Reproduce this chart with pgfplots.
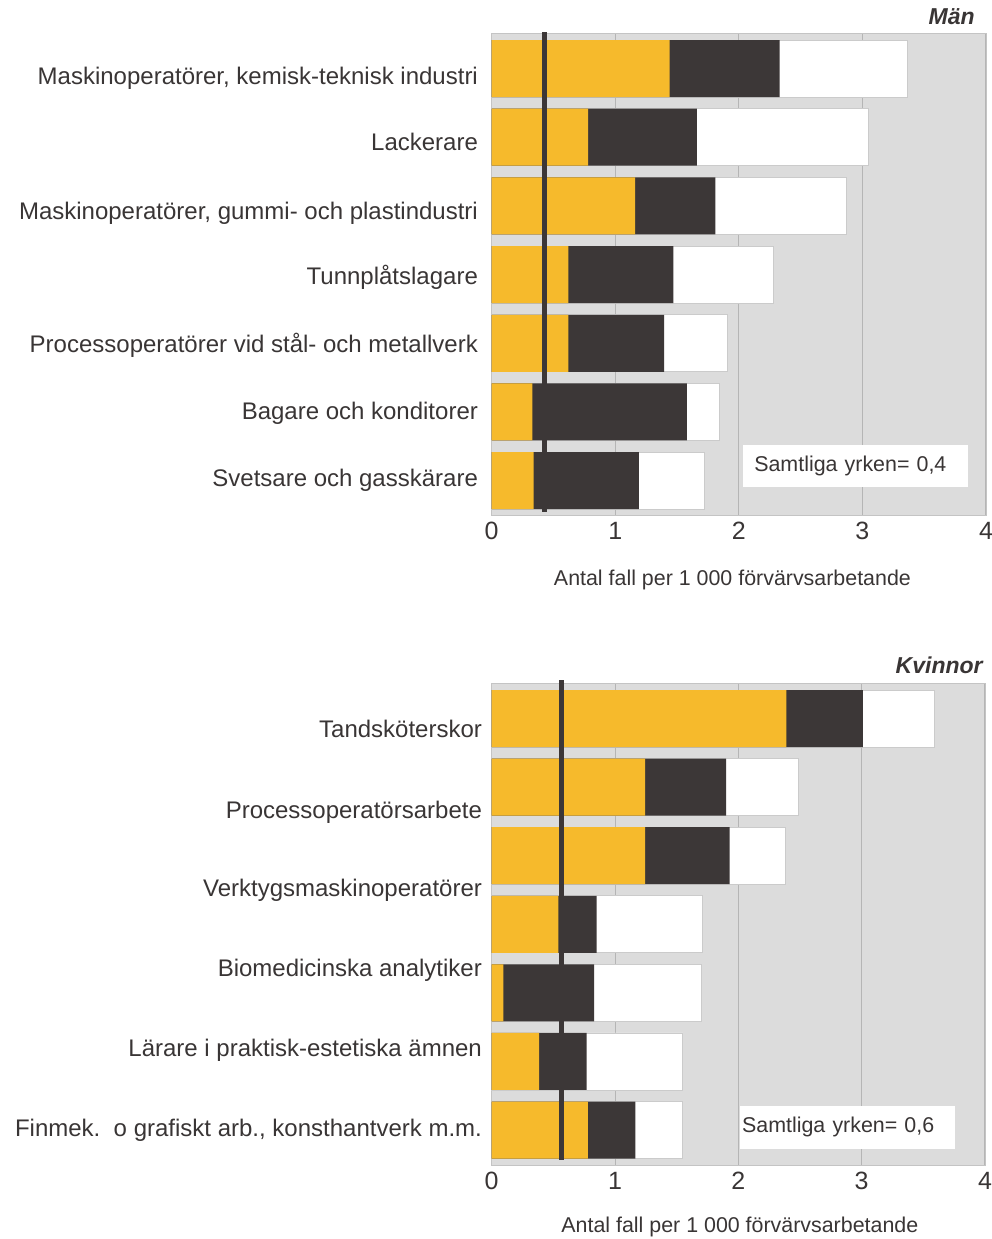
\documentclass[border=0pt]{standalone}
\usepackage{fontspec}
\setmainfont{Liberation Sans}
\usepackage{pgfplots}
\pgfplotsset{compat=1.18}
\definecolor{cy}{HTML}{F6BA2C}
\definecolor{cd}{HTML}{3C3737}
\definecolor{cbg}{HTML}{DCDCDC}
\definecolor{cgrid}{HTML}{B5B5B5}
\definecolor{ctxt}{HTML}{393535}
\pgfplotsset{panel/.style={
  anchor=north west, scale only axis,
  xmin=0, xmax=4, y dir=reverse, xtick={0,1,2,3,4},
  axis background/.style={fill=cbg},
  axis line style={draw=cgrid!80},
  major tick length=0pt,
  xmajorgrids, grid style={cgrid, line width=0.5pt},
  tick label style={text=ctxt},
  xticklabel style={font=\fontsize{12.5}{14}\selectfont},
  yticklabel style={font=\fontsize{12}{14}\selectfont, anchor=east, text height=8.6pt, text depth=0pt, inner sep=0pt},
  /pgf/number format/assume math mode=true,
  xlabel style={font=\fontsize{10.7}{12}\selectfont, text=ctxt, anchor=center, text height=7.7pt, text depth=0pt},
  clip=false,
  xbar, bar shift=0pt, bar width=0.83,
}}
\begin{document}
\begin{tikzpicture}
\useasboundingbox (0,0) rectangle (496pt,-619.5pt);
% ---------------- Men ----------------
\begin{axis}[panel, at={(245.85pt,-16.5pt)}, width=247.15pt, height=241pt,
  ymin=-0.517, ymax=6.50,
  ytick={0.105,1.075,2.07,3.017,4.012,4.988,5.959},
  yticklabels={{Maskinoperatörer, kemisk-teknisk industri}, {Lackerare}, {Maskinoperatörer, gummi- och plastindustri}, {Tunnplåtslagare}, {Processoperatörer vid stål- och metallverk}, {Bagare och konditorer}, {Svetsare och gasskärare}},
  yticklabel style={xshift=-6.7pt},
  xlabel={Antal fall per 1 000 förvärvsarbetande},
  xlabel style={at={(axis description cs:0.487,0)}, yshift=-31.5pt},
]
\addplot[fill=white, draw=cgrid!70] coordinates {(3.36,0) (3.05,1) (2.87,2) (2.28,3) (1.91,4) (1.84,5) (1.72,6)};
\addplot[fill=cd, draw=none] coordinates {(2.33,0) (1.66,1) (1.81,2) (1.47,3) (1.395,4) (1.58,5) (1.19,6)};
\addplot[fill=cy, draw=none] coordinates {(1.44,0) (0.78,1) (1.16,2) (0.62,3) (0.62,4) (0.33,5) (0.34,6)};
\addplot[sharp plot, no marks, line width=2.5pt, cd] coordinates {(0.43,-0.53) (0.43,6.46)};
\node[fill=white, anchor=west, minimum height=20.8pt, text width=101pt, inner xsep=5.8pt, align=left, text=ctxt, font=\fontsize{10.7}{12}\selectfont] at (axis cs:2.028,5.786) {Samtliga yrken= 0,4};
\end{axis}
\node[anchor=east, inner sep=0pt, text=ctxt, text depth=0pt, font=\bfseries\itshape\fontsize{11.5}{13}\selectfont] at (487.5pt,-8.5pt) {Män};
% ---------------- Women ----------------
\begin{axis}[panel, at={(245.85pt,-341.5pt)}, width=246.65pt, height=241pt,
  ymin=-0.518, ymax=6.51,
  ytick={0.156,1.331,2.474,3.641,4.797,5.974},
  yticklabels={{Tandsköterskor}, {Processoperatörsarbete}, {Verktygsmaskinoperatörer}, {Biomedicinska analytiker}, {Lärare i praktisk-estetiska ämnen}, {Finmek.\ \ o grafiskt arb., konsthantverk m.m.}},
  yticklabel style={xshift=-4.7pt},
  xlabel={Antal fall per 1 000 förvärvsarbetande},
  xlabel style={at={(axis description cs:0.503,0)}, yshift=-30pt},
]
\addplot[fill=white, draw=cgrid!70] coordinates {(3.59,0) (2.49,1) (2.38,2) (1.71,3) (1.70,4) (1.55,5) (1.546,6)};
\addplot[fill=cd, draw=none] coordinates {(3.01,0) (1.90,1) (1.93,2) (0.85,3) (0.83,4) (0.77,5) (1.165,6)};
\addplot[fill=cy, draw=none] coordinates {(2.39,0) (1.245,1) (1.245,2) (0.54,3) (0.094,4) (0.384,5) (0.78,6)};
\addplot[sharp plot, no marks, line width=2.5pt, cd] coordinates {(0.57,-0.56) (0.57,6.44)};
\node[fill=white, anchor=west, minimum height=21.7pt, text width=105.4pt, inner xsep=1.2pt, align=left, text=ctxt, font=\fontsize{10.7}{12}\selectfont] at (axis cs:2.008,5.961) {Samtliga yrken= 0,6};
\end{axis}
\node[anchor=east, inner sep=0pt, text=ctxt, text depth=0pt, font=\bfseries\itshape\fontsize{11.5}{13}\selectfont] at (491.5pt,-332.5pt) {Kvinnor};
\end{tikzpicture}
\end{document}
